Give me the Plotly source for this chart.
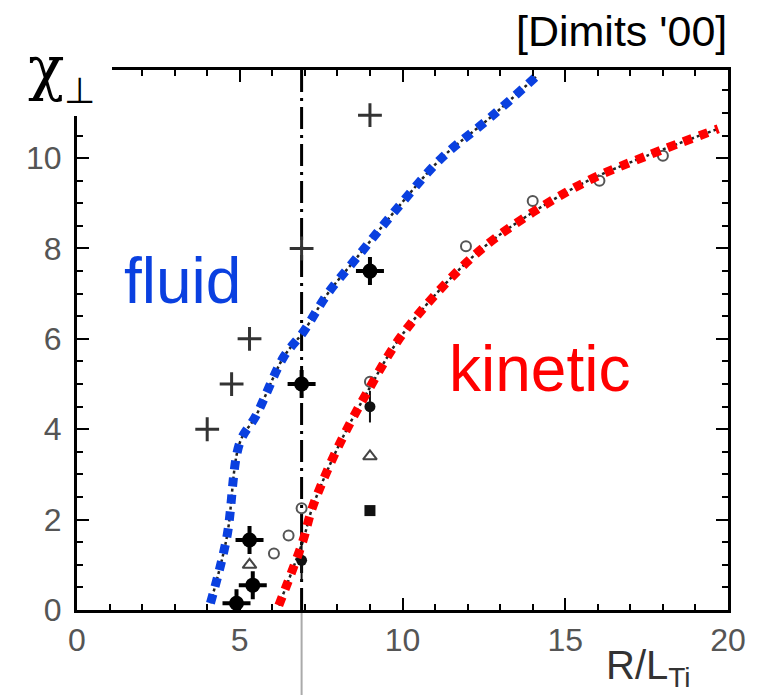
import plotly.graph_objects as go

# ---------------- data ----------------
fluid_x = [4.1, 4.6, 5.0, 5.5, 6.35, 6.95, 7.7, 8.6, 9.85, 11.2, 12.7, 14.1]
fluid_y = [0.15, 1.6, 3.7, 4.3, 5.6, 6.15, 7.0, 7.8, 8.9, 10.0, 10.9, 11.8]

kin_x = [6.2, 6.6, 6.95, 7.2, 7.55, 7.95, 8.4, 8.9, 9.85, 11.1, 12.45, 14.0, 15.7, 17.5, 19.7]
kin_y = [0.1, 0.85, 1.55, 2.2, 2.85, 3.5, 4.15, 4.8, 5.95, 7.05, 8.0, 8.8, 9.5, 10.05, 10.65]

plus_x = [4.0, 4.75, 5.3, 6.9, 9.0]
plus_y = [4.0, 5.0, 6.0, 8.0, 10.95]

filled_x = [6.9, 9.0, 5.3, 5.4, 4.9]
filled_y = [5.0, 7.5, 1.55, 0.55, 0.15]

stem_x = [6.9, 9.0]
stem_y = [1.1, 4.5]
stem_err = [0.45, 0.35]

open_x = [6.5, 6.05, 6.9, 9.0, 11.95, 14.0, 16.05, 18.0]
open_y = [1.65, 1.25, 2.25, 5.05, 8.05, 9.05, 9.5, 10.05]

otri_x = [5.3, 9.0]
otri_y = [1.0, 3.4]

sq_x = [9.0]
sq_y = [2.2]

ftri_x = [4.15, 6.9]
ftri_y = [-0.37, -0.37]

thresh_x = 6.9

x_ticks = [0, 5, 10, 15, 20]
y_ticks = [0, 2, 4, 6, 8, 10]

# ---------------- layout geometry ----------------
# the page body has an 8px margin, so screen positions are shifted by 8px
OFF = 8
W, H = 764, 695
PL, PR, PT, PB = 77, 728, 70, 610          # plot box on screen
L, T = PL - OFF, PT - OFF
R, B = W - (PR - OFF), H - (PB - OFF)
pw, ph = PR - PL, PB - PT


def px(xs):
    return (xs - PL) / pw


def py(ys):
    return (PB - ys) / ph


fig = go.Figure()

# threshold dash-dot line
fig.add_trace(go.Scatter(x=[thresh_x, thresh_x], y=[0, 12], mode="lines",
                         line=dict(color="black", width=3, dash="22px,6px,3px,6px"),
                         showlegend=False, hoverinfo="skip"))

# underlying black dotted originals
for xs, ys in [(fluid_x, fluid_y), (kin_x, kin_y)]:
    fig.add_trace(go.Scatter(x=xs, y=ys, mode="lines", line_shape="spline",
                             line=dict(color="#222", width=2.5, dash="3px,3px"),
                             showlegend=False, hoverinfo="skip"))

# markers
fig.add_trace(go.Scatter(x=plus_x, y=plus_y, mode="markers",
                         marker=dict(symbol="cross-thin", size=17, color="#333",
                                     line=dict(color="#333", width=3)),
                         showlegend=False))
fig.add_trace(go.Scatter(x=filled_x, y=filled_y, mode="markers",
                         marker=dict(symbol="circle", size=15, color="black"),
                         showlegend=False))
fig.add_trace(go.Scatter(x=filled_x, y=filled_y, mode="markers",
                         marker=dict(symbol="cross-thin", size=20, color="black",
                                     line=dict(color="black", width=4)),
                         showlegend=False))
fig.add_trace(go.Scatter(x=stem_x, y=stem_y, mode="markers",
                         marker=dict(symbol="circle", size=11, color="#111"),
                         error_y=dict(type="data", array=stem_err, color="#111", thickness=2, width=0),
                         showlegend=False))
fig.add_trace(go.Scatter(x=open_x, y=open_y, mode="markers",
                         marker=dict(symbol="circle-open", size=10, color="#555",
                                     line=dict(color="#555", width=2)),
                         showlegend=False))
fig.add_trace(go.Scatter(x=otri_x, y=otri_y, mode="markers",
                         marker=dict(symbol="triangle-up-open", size=12, color="#444",
                                     line=dict(color="#444", width=2)),
                         showlegend=False))
fig.add_trace(go.Scatter(x=sq_x, y=sq_y, mode="markers",
                         marker=dict(symbol="square", size=11, color="#111"),
                         showlegend=False))
fig.add_trace(go.Scatter(x=ftri_x, y=ftri_y, mode="markers", cliponaxis=False,
                         marker=dict(symbol="triangle-up", size=12, color="#111"),
                         showlegend=False))

# coloured fits
fig.add_trace(go.Scatter(x=fluid_x, y=fluid_y, mode="lines", line_shape="spline",
                         line=dict(color="#0a40e0", width=9, dash="9px,8px"),
                         showlegend=False))
fig.add_trace(go.Scatter(x=kin_x, y=kin_y, mode="lines", line_shape="spline",
                         line=dict(color="#ff0000", width=9, dash="9px,8px"),
                         showlegend=False))

axis_common = dict(showgrid=False, zeroline=False, showline=True, linecolor="black", linewidth=3,
                   mirror="allticks", ticks="inside", ticklen=12, tickwidth=2, tickcolor="black",
                   tickfont=dict(family="Liberation Sans", size=32, color="#555"))

fig.update_xaxes(range=[0, 20], tickvals=x_ticks, ticktext=[str(v) for v in x_ticks],
                 minor=dict(dtick=1, ticks="inside", ticklen=6, tickcolor="black", tickwidth=2),
                 ticklabelstandoff=0, **axis_common)
fig.update_yaxes(range=[0, 11.95], tickvals=y_ticks, ticktext=[str(v) for v in y_ticks],
                 minor=dict(dtick=0.5, ticks="inside", ticklen=6, tickcolor="black", tickwidth=2),
                 ticklabelstandoff=6, **axis_common)

# gap in frame at top-left corner, and grey threshold continuation below axis
fig.add_shape(type="rect", xref="paper", yref="paper", x0=px(68), x1=px(112), y0=py(116), y1=py(55),
              fillcolor="white", line=dict(width=0), layer="above")
fig.add_shape(type="line", xref="x", yref="paper", x0=thresh_x, x1=thresh_x, y0=py(H + 20), y1=py(613),
              line=dict(color="#aaa", width=2), layer="above")


def label(text, xs, ys, size, color, family="Liberation Sans", xanchor="center"):
    fig.add_annotation(x=px(xs), y=py(ys), xref="paper", yref="paper", showarrow=False,
                       xanchor=xanchor, yanchor="middle", text=text,
                       font=dict(family=family, size=size, color=color))


label("[Dimits '00]", 621, 31, 43, "black")
label("χ", 46, 68, 60, "black", family="DejaVu Serif")
label("⊥", 79, 90, 36, "black", family="DejaVu Sans")
label("fluid", 182, 281, 64, "#0a40e0")
label("kinetic", 539, 369, 64, "#ff0000")
label("R/L<sub>Ti</sub>", 604, 668, 40, "#333", xanchor="left")

fig.update_layout(width=W, height=H, margin=dict(l=L, r=R, t=T, b=B),
                  paper_bgcolor="white", plot_bgcolor="white")

fig.write_html("out.html")
